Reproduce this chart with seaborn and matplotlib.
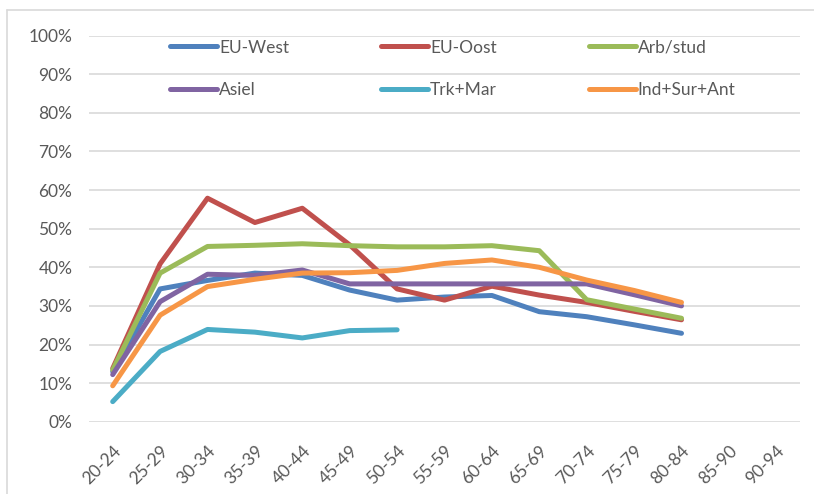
import numpy as np
import pandas as pd
import matplotlib
matplotlib.use("Agg")
import matplotlib.pyplot as plt
import seaborn as sns
from matplotlib.lines import Line2D

age_groups = ["20-24", "25-29", "30-34", "35-39", "40-44", "45-49", "50-54",
              "55-59", "60-64", "65-69", "70-74", "75-79", "80-84", "85-90", "90-94"]

nan = np.nan
eu_west = [13.0, 34.4, 36.6, 38.5, 37.9, 34.1, 31.5, 32.3, 32.7, 28.5, 27.2, 25.1, 22.9, nan, nan]
eu_oost = [13.8, 40.9, 57.9, 51.6, 55.3, 45.8, 34.4, 31.5, 35.1, 32.8, 30.9, 28.6, 26.4, nan, nan]
arb_stud = [13.4, 38.5, 45.4, 45.7, 46.1, 45.6, 45.3, 45.3, 45.6, 44.3, 31.6, 29.2, 26.8, nan, nan]
asiel = [12.2, 31.1, 38.2, 37.9, 39.3, 35.7, 35.7, 35.7, 35.7, 35.7, 35.7, 32.9, 30.0, nan, nan]
trk_mar = [5.2, 18.2, 23.9, 23.2, 21.7, 23.6, 23.8, nan, nan, nan, nan, nan, nan, nan, nan]
ind_sur_ant = [9.3, 27.6, 35.0, 36.9, 38.5, 38.6, 39.2, 41.0, 41.9, 40.0, 36.7, 34.0, 30.9, nan, nan]

series_names = ["EU-West", "EU-Oost", "Arb/stud", "Asiel", "Trk+Mar", "Ind+Sur+Ant"]
series_values = [eu_west, eu_oost, arb_stud, asiel, trk_mar, ind_sur_ant]
colors = ["#4F81BD", "#C0504D", "#9BBB59", "#8064A2", "#4BACC6", "#F79646"]

rows = []
for name, vals in zip(series_names, series_values):
    for i, v in enumerate(vals):
        if not np.isnan(v):
            rows.append({"pos": i, "value": v / 100.0, "groep": name})
df = pd.DataFrame(rows)

sns.set_theme(style="white")
plt.rcParams["font.family"] = ["Lato", "DejaVu Sans"]

fig = plt.figure(figsize=(8.14, 4.94), dpi=100)
ax = fig.add_axes([89 / 814, 1 - 421.7 / 494, (800 - 89) / 814, (421.7 - 35.7) / 494])

sns.lineplot(data=df, x="pos", y="value", hue="groep", hue_order=series_names,
             palette=dict(zip(series_names, colors)), linewidth=3.6, ax=ax,
             legend=False, solid_capstyle="round", solid_joinstyle="round", sort=True)

ax.set_xlim(-0.5, len(age_groups) - 0.5)
ax.set_ylim(0, 1.0)
ax.set_yticks(np.arange(0, 1.01, 0.1))
ax.set_yticklabels([f"{int(round(t * 100))}%" for t in np.arange(0, 1.01, 0.1)])
ax.set_xticks(range(len(age_groups)))
ax.set_xticklabels(age_groups, rotation=45, ha="right", rotation_mode="anchor")
ax.set_xlabel("")
ax.set_ylabel("")
ax.grid(axis="y", color="#D9D9D9", linewidth=1.2)
ax.grid(axis="x", visible=False)
ax.set_axisbelow(True)
for s in ax.spines.values():
    s.set_visible(False)
ax.tick_params(axis="both", length=0, labelsize=12.5, labelcolor="#595959")
ax.tick_params(axis="y", pad=12)
ax.tick_params(axis="x", pad=15)

# legend: row-major order as in the reference (3 columns, 2 rows)
order = [0, 3, 1, 4, 2, 5]
handles = [Line2D([0], [0], color=colors[i], linewidth=3.6, solid_capstyle="round") for i in order]
labels = [series_names[i] for i in order]
leg = ax.legend(handles, labels, ncol=3, frameon=False, loc="upper left",
                bbox_to_anchor=((170 - 89) / 711, 0.99), fontsize=12.5,
                handlelength=2.7, handletextpad=0.12, columnspacing=5.3,
                labelspacing=1.5, borderaxespad=0, borderpad=0)
for t in leg.get_texts():
    t.set_color("#595959")

# outer chart border
fig.add_artist(Line2D([7 / 814, 7 / 814], [0, 1 - 10 / 494], transform=fig.transFigure,
                      color="#D9D9D9", linewidth=1.2))
fig.add_artist(Line2D([7 / 814, 1], [1 - 10 / 494, 1 - 10 / 494], transform=fig.transFigure,
                      color="#D9D9D9", linewidth=1.2))

fig.savefig("out.png", dpi=100)
